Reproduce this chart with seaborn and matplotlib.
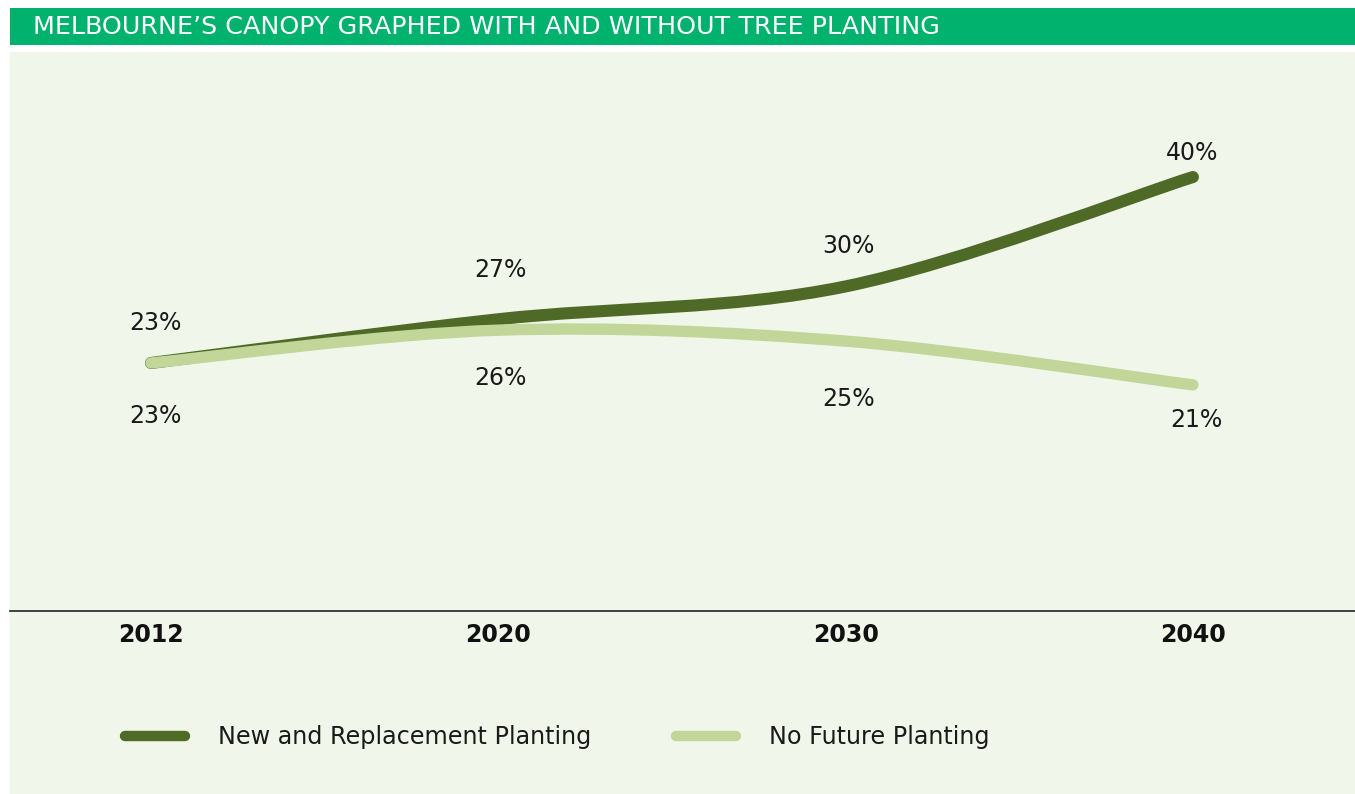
import numpy as np
import pandas as pd
import matplotlib
matplotlib.use("Agg")
import matplotlib.pyplot as plt
from matplotlib.path import Path
from matplotlib.patches import PathPatch, Rectangle
from matplotlib.lines import Line2D
import seaborn as sns

# ---- data ----
years = ["2012", "2020", "2030", "2040"]
planting = [23, 27, 30, 40]
no_planting = [23, 26, 25, 21]
series_names = ["New and Replacement Planting", "No Future Planting"]
title = "MELBOURNE\u2019S CANOPY GRAPHED WITH AND WITHOUT TREE PLANTING"

df = pd.DataFrame({
    "pos": list(range(len(years))) * 2,
    "canopy": planting + no_planting,
    "series": [series_names[0]] * len(years) + [series_names[1]] * len(years),
})

# ---- style ----
sns.set_theme(style="white")
plt.rcParams["font.family"] = ["DejaVu Sans"]
DARK = "#4f6a26"
LIGHT = "#c2d69a"
PANEL = "#f1f6ea"
BAND = "#00b26e"
W, H = 1355, 794

fig = plt.figure(figsize=(W / 100, H / 100), dpi=100)
fig.patch.set_facecolor("white")
fig.patches.append(Rectangle((10 / W, 0), 1 - 10 / W, 1 - 52 / H, transform=fig.transFigure,
                             facecolor=PANEL, edgecolor="none", zorder=-10))
fig.patches.append(Rectangle((10 / W, 1 - 45 / H), 1 - 10 / W, 37 / H, transform=fig.transFigure,
                             facecolor=BAND, edgecolor="none", zorder=-10))
fig.text(33 / W, 1 - 27 / H, title, color="white", fontsize=18.3, va="center", ha="left")

ax = fig.add_axes([10 / W, 1 - 611 / H, 1 - 10 / W, (611 - 52) / H])
ax.set_facecolor("none")
ax.set_zorder(1)

sns.lineplot(data=df, x="pos", y="canopy", hue="series", palette=[DARK, LIGHT],
             legend=False, ax=ax, linewidth=9)


def smooth_path(pts):
    n = len(pts)
    verts = [tuple(pts[0])]
    codes = [Path.MOVETO]
    for i in range(n - 1):
        p0 = pts[max(i - 1, 0)]
        p1 = pts[i]
        p2 = pts[i + 1]
        p3 = pts[min(i + 2, n - 1)]
        c1 = p1 + (p2 - p0) / 6.0
        c2 = p2 - (p3 - p1) / 6.0
        verts += [tuple(c1), tuple(c2), tuple(p2)]
        codes += [Path.CURVE4] * 3
    return Path(verts, codes)


for line, col, lw in zip(list(ax.lines), [DARK, LIGHT], [8.7, 8.2]):
    pts = np.asarray(line.get_xydata(), dtype=float)
    line.set_visible(False)
    patch = PathPatch(smooth_path(pts), facecolor="none", edgecolor=col, linewidth=lw,
                      capstyle="round", joinstyle="round", zorder=3)
    ax.add_patch(patch)

ax.set_xlim((10 - 151) / 347.3, (1355 - 151) / 347.3)
ax.set_ylim(23 - (611 - 363) / 10.94, 23 + (363 - 52) / 10.94)

dark_off = [(4, 40), (2, 49), (3, 40), (-1, 24)]
light_off = [(4, -53), (2, -48), (3, -58), (3, -35)]
for i, v in enumerate(planting):
    ax.annotate(f"{v}%", (i, v), xytext=dark_off[i], textcoords="offset pixels",
                ha="center", va="center", fontsize=17, color="#1a1a1a")
for i, v in enumerate(no_planting):
    ax.annotate(f"{v}%", (i, v), xytext=light_off[i], textcoords="offset pixels",
                ha="center", va="center", fontsize=17, color="#1a1a1a")

ax.set_xticks(range(len(years)))
ax.set_xticklabels(years, fontsize=17, fontweight="bold", color="#111111")
ax.tick_params(axis="x", length=0, pad=9)
for lbl in ax.get_xticklabels():
    lbl.set_x(lbl.get_position()[0])
ax.set_yticks([])
ax.set_xlabel("")
ax.set_ylabel("")
for s in ["top", "left", "right"]:
    ax.spines[s].set_visible(False)
ax.spines["bottom"].set_color("#333333")
ax.spines["bottom"].set_linewidth(1.3)

handles = [Line2D([0], [0], color=DARK, lw=7.5, solid_capstyle="round"),
           Line2D([0], [0], color=LIGHT, lw=7.5, solid_capstyle="round")]
leg = fig.legend(handles, series_names, loc="center left", bbox_to_anchor=(125 / W, 1 - 737 / H),
                 ncol=2, frameon=False, fontsize=17.2, handlelength=2.5, handletextpad=1.4,
                 columnspacing=3.55, borderpad=0, borderaxespad=0)
for t in leg.get_texts():
    t.set_color("#1a1a1a")

fig.savefig("out.png", dpi=100, facecolor="white")
